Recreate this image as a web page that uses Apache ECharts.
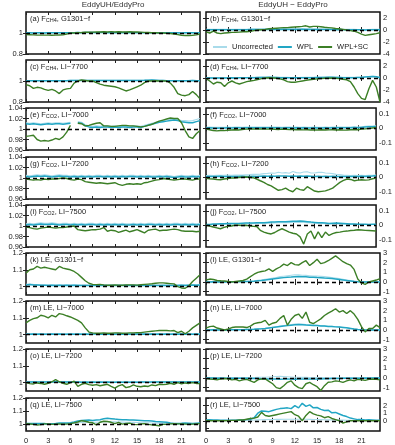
<!DOCTYPE html>
<html>
<head>
<meta charset="utf-8">
<script src="https://cdn.jsdelivr.net/npm/echarts@6/dist/echarts.min.js"></script>
<style>
html,body{margin:0;padding:0;background:#fff;}
#chart{width:395px;height:445px;}
</style>
</head>
<body>
<div id="chart"></div>
<script>
/*-----------日变化：EddyUH 与 EddyPro 的比值 / 差值-----------*/
var hours = [0,0.5,1,1.5,2,2.5,3,3.5,4,4.5,5,5.5, 6,6.5,7,7.5,8,8.5,9,9.5,10,10.5,11,11.5,
             12,12.5,13,13.5,14,14.5,15,15.5,16,16.5,17,17.5, 18,18.5,19,19.5,20,20.5,21,21.5,22,22.5,23,23.5];
var xTicks = [0,3,6,9,12,15,18,21];
var seriesNames = ['Uncorrected','WPL','WPL+SC'];

// (a) F_CH4, G1301-f ratio
var unc_a = [1.004,1.004,1.003,1.004,1.004,1.003,1.004,1.004,1.005,1.004,1.004,1.005, 1.005,1.005,1.006,1.005,1.006,1.006,1.006,1.005,1.006,1.006,1.005,1.006, 1.005,1.006,1.005,1.006,1.005,1.005,1.005,1.005,1.004,1.005,1.004,1.004, 1.004,1.004,1.004,1.005,1.004,1.004,1.003,1.004,1.004,1.004,1.003,1.004];
var wpl_a = [1.002,1.002,1.001,1.002,1.002,1.001,1.002,1.002,1.003,1.002,1.002,1.003, 1.003,1.003,1.004,1.003,1.004,1.004,1.004,1.003,1.004,1.004,1.003,1.004, 1.003,1.004,1.003,1.004,1.003,1.003,1.003,1.003,1.002,1.003,1.002,1.002, 1.002,1.002,1.002,1.003,1.002,1.002,1.001,1.002,1.002,1.002,1.001,1.002];
var sc_a = [0.985,0.984,0.982,0.98,0.98,0.98,0.98,0.979,0.98,0.981,0.982,0.99, 1.0,1.0,1.004,1.005,1.007,1.007,1.008,1.01,1.01,1.012,1.01,1.013, 1.01,1.012,1.01,1.01,1.012,1.01,1.01,1.008,1.006,1.005,1.003,1.002, 1.0,1.0,0.998,0.995,0.99,0.985,0.978,0.976,0.976,0.978,0.982,0.99];
// (b) F_CH4, G1301-f difference
var unc_b = [0.12,0.11,0.12,0.11,0.1,0.11,0.12,0.11,0.12,0.13,0.12,0.13, 0.14,0.15,0.16,0.17,0.18,0.18,0.18,0.19,0.18,0.19,0.18,0.18, 0.18,0.18,0.19,0.18,0.18,0.17,0.17,0.16,0.16,0.15,0.14,0.13, 0.13,0.12,0.11,0.1,0.1,0.09,0.08,0.08,0.09,0.1,0.1,0.11];
var wpl_b = [0.05,0.04,0.05,0.04,0.03,0.04,0.05,0.04,0.05,0.06,0.05,0.06, 0.07,0.08,0.08,0.09,0.1,0.1,0.1,0.11,0.1,0.11,0.1,0.1, 0.1,0.1,0.11,0.1,0.1,0.09,0.09,0.08,0.08,0.07,0.07,0.06, 0.06,0.05,0.05,0.04,0.04,0.03,0.03,0.02,0.03,0.04,0.04,0.05];
var sc_b = [-0.3,-0.5,-0.2,-0.5,-0.6,-0.5,-0.45,-0.4,-0.4,-0.35,-0.3,-0.3, -0.2,-0.1,0,0.05,0.1,0.2,0.25,0.3,0.35,0.4,0.4,0.45, 0.5,0.55,0.6,0.7,0.5,0.6,0.6,0.55,0.45,0.4,0.35,0.25, 0.2,0.1,0,-0.1,-0.2,-0.4,-0.7,-0.9,-0.8,-0.7,-0.6,-0.45];
// (c) F_CH4, LI-7700 ratio
var unc_c = [1.005,1.005,1.004,1.005,1.005,1.004,1.005,1.005,1.005,1.004,1.005,1.005, 1.006,1.006,1.006,1.007,1.006,1.006,1.006,1.006,1.007,1.006,1.006,1.006, 1.006,1.006,1.006,1.006,1.006,1.007,1.006,1.007,1.008,1.01,1.012,1.009, 1.006,1.006,1.005,1.005,1.005,1.004,1.005,1.004,1.005,1.006,1.005,1.004];
var wpl_c = [1.003,1.003,1.002,1.003,1.003,1.002,1.003,1.003,1.003,1.002,1.003,1.003, 1.004,1.004,1.004,1.005,1.004,1.004,1.004,1.004,1.005,1.004,1.004,1.004, 1.004,1.004,1.004,1.004,1.004,1.005,1.004,1.005,1.006,1.008,1.01,1.007, 1.004,1.004,1.003,1.003,1.003,1.002,1.003,1.002,1.003,1.004,1.003,1.002];
var sc_c = [0.965,0.955,0.93,0.94,0.935,0.92,0.91,0.92,0.905,0.88,0.915,0.925, 0.93,0.98,1.0,1.01,1.005,1.0,1.0,0.985,0.97,0.96,0.955,0.95, 0.945,0.935,0.92,0.905,0.915,0.93,0.945,0.96,0.985,1.0,1.0,1.002, 1.0,1.0,1.0,0.98,0.94,0.88,0.865,0.86,0.87,0.9,0.87,0.83];
// (d) F_CH4, LI-7700 difference
var unc_d = [0.07,0.06,0.07,0.07,0.06,0.07,0.07,0.08,0.07,0.08,0.08,0.09, 0.1,0.11,0.13,0.15,0.15,0.17,0.15,0.13,0.11,0.1,0.1,0.09, 0.1,0.09,0.1,0.1,0.11,0.11,0.12,0.13,0.15,0.17,0.17,0.15, 0.13,0.11,0.1,0.1,0.11,0.13,0.15,0.2,0.25,0.3,0.25,0.1];
var wpl_d = [0.02,0.01,0.02,0.02,0.01,0.02,0.02,0.03,0.02,0.03,0.03,0.04, 0.05,0.06,0.08,0.1,0.1,0.12,0.1,0.08,0.06,0.05,0.05,0.04, 0.05,0.04,0.05,0.05,0.06,0.06,0.07,0.08,0.1,0.12,0.12,0.1, 0.08,0.06,0.05,0.05,0.06,0.08,0.1,0.15,0.2,0.25,0.2,0.05];
var sc_d = [-0.1,-0.5,-1.0,-0.7,-0.8,-1.4,-0.8,-0.5,-0.8,-1.0,-0.8,-0.6, -0.5,-0.4,-0.25,-0.1,0,0.05,0,-0.05,-0.15,-0.3,-0.6,-0.7, -0.7,-0.6,-0.5,-0.4,-0.3,-0.2,-0.15,-0.1,-0.05,-0.05,0,-0.05, -0.1,-0.2,-0.3,-0.6,-1.5,-2.6,-3.4,-3.6,-1.8,-0.4,-1.5,-4.0];
// (e) F_CO2, LI-7000 ratio
var unc_e = [1.012,1.011,1.012,1.011,1.01,1.011,1.012,1.011,1.012,1.012,1.011,1.012, 1.013,null,1.014,1.013,1.008,1.006,1.005,1.006,1.005,1.006,1.006,1.005, 1.006,1.005,1.006,1.006,1.005,1.006,1.006,1.005,1.007,1.009,1.011,1.013, 1.015,1.016,1.017,1.018,1.019,1.018,1.016,1.016,1.015,1.016,1.018,1.02];
var wpl_e = [1.01,1.009,1.01,1.009,1.008,1.009,1.01,1.009,1.01,1.01,1.009,1.01, 1.011,null,1.012,1.011,1.006,1.004,1.003,1.004,1.003,1.004,1.004,1.003, 1.004,1.003,1.004,1.004,1.003,1.004,1.004,1.003,1.005,1.007,1.009,1.011, 1.013,1.014,1.015,1.016,1.017,1.016,1.014,1.013,1.012,1.012,1.014,1.016];
var sc_e = [0.986,0.987,0.988,0.98,0.977,0.978,0.977,0.979,0.982,0.98,0.985,0.994, 1.007,null,1.011,1.01,1.006,1.007,1.009,1.011,1.012,1.006,1.006,1.005, 1.005,1.006,1.007,1.007,1.006,1.006,1.005,1.004,1.005,1.007,1.009,1.012, 1.015,1.017,1.019,1.021,1.02,1.02,1.012,0.997,0.985,0.982,0.991,0.997];
// (f) F_CO2, LI-7000 difference
var unc_f = [0.007,0.008,0.007,0.006,0.007,0.007,0.008,0.007,0.008,0.008,0.007,0.008, 0.008,0.009,0.008,0.009,0.008,0.008,0.009,0.008,0.008,0.007,0.008,0.008, 0.007,0.008,0.007,0.008,0.007,0.007,0.008,0.007,0.007,0.008,0.007,0.008, 0.008,0.009,0.008,0.008,0.009,0.01,0.009,0.011,0.013,0.015,0.015,0.017];
var wpl_f = [0.002,0.003,0.002,0.001,0.002,0.002,0.003,0.002,0.003,0.003,0.002,0.003, 0.003,0.004,0.003,0.004,0.003,0.003,0.004,0.003,0.003,0.002,0.003,0.003, 0.002,0.003,0.002,0.003,0.002,0.002,0.003,0.002,0.002,0.003,0.002,0.003, 0.003,0.004,0.003,0.003,0.004,0.005,0.004,0.006,0.008,0.01,0.01,0.012];
var sc_f = [-0.005,-0.01,-0.015,-0.018,-0.015,-0.016,-0.014,-0.012,-0.01,-0.012,-0.008,-0.006, -0.005,-0.004,-0.006,-0.005,-0.004,-0.006,-0.005,-0.007,-0.008,-0.006,-0.007,-0.009, -0.008,-0.01,-0.009,-0.011,-0.01,-0.012,-0.011,-0.012,-0.01,-0.012,-0.011,-0.01, -0.012,-0.01,-0.013,-0.012,-0.01,-0.008,-0.01,-0.006,-0.004,-0.002,0.002,0.005];
// (g) F_CO2, LI-7200 ratio
var unc_g = [1.005,1.004,1.005,1.006,1.005,1.006,1.005,1.004,1.005,1.006,1.005,1.005, 1.004,1.005,1.004,1.005,1.004,1.005,1.004,1.005,1.005,1.004,1.005,1.004, 1.005,1.004,1.005,1.004,1.005,1.005,1.004,1.005,1.004,1.005,1.004,1.004, 1.005,1.004,1.005,1.004,1.003,1.004,1.005,1.004,1.004,1.005,1.004,1.005];
var wpl_g = [1.003,1.002,1.003,1.004,1.003,1.004,1.003,1.002,1.003,1.004,1.003,1.003, 1.002,1.003,1.002,1.003,1.002,1.003,1.002,1.003,1.003,1.002,1.003,1.002, 1.003,1.002,1.003,1.002,1.003,1.003,1.002,1.003,1.002,1.003,1.002,1.002, 1.003,1.002,1.003,1.002,1.001,1.002,1.003,1.002,1.002,1.003,1.002,1.003];
var sc_g = [0.998,0.997,0.996,0.997,0.996,0.998,0.997,0.998,0.998,0.999,1.0,0.999, 0.997,0.996,0.998,0.997,0.993,0.992,0.991,0.99,0.991,0.99,0.989,0.99, 0.991,0.988,0.986,0.988,0.989,0.988,0.989,0.988,0.991,0.992,0.994,0.996, 0.997,0.999,0.998,0.997,0.996,0.997,0.998,0.998,0.997,0.996,0.998,0.998];
// (h) F_CO2, LI-7200 difference
var unc_h = [0.012,0.013,0.012,0.014,0.013,0.014,0.015,0.014,0.015,0.016,0.015,0.017, 0.018,0.02,0.02,0.022,0.025,0.027,0.03,0.028,0.035,0.03,0.032,0.028, 0.04,0.032,0.03,0.036,0.038,0.03,0.03,0.034,0.035,0.03,0.028,0.025, 0.02,0.018,0.015,0.014,0.012,0.013,0.012,0.013,0.012,0.013,0.014,0.015];
var wpl_h = [0.005,0.006,0.005,0.006,0.007,0.006,0.005,0.006,0.005,0.006,0.007,0.006, 0.006,0.007,0.006,0.007,0.008,0.007,0.008,0.007,0.008,0.009,0.008,0.007, 0.008,0.007,0.008,0.007,0.008,0.007,0.006,0.007,0.006,0.007,0.006,0.007, 0.006,0.005,0.006,0.005,0.006,0.005,0.006,0.007,0.006,0.007,0.008,0.01];
var sc_h = [-0.007,-0.01,-0.012,-0.015,-0.017,-0.012,-0.008,-0.005,-0.005,-0.002,0,0.002, 0,-0.003,-0.012,-0.024,-0.035,-0.05,-0.06,-0.075,-0.09,-0.085,-0.075,-0.09, -0.1,-0.075,-0.085,-0.09,-0.065,-0.08,-0.095,-0.1,-0.097,-0.094,-0.085,-0.075, -0.055,-0.035,-0.022,-0.012,-0.015,-0.024,-0.02,-0.017,-0.02,-0.018,-0.01,-0.005];
// (i) F_CO2, LI-7500 ratio
var unc_i = [1.004,1.005,1.004,1.005,1.006,1.005,1.005,1.006,1.005,1.004,1.005,1.005, 1.004,1.005,1.004,1.005,1.004,1.005,1.005,1.004,1.005,1.004,1.005,1.004, 1.005,1.004,1.005,1.004,1.004,1.005,1.004,1.005,1.004,1.005,1.005,1.004, 1.005,1.004,1.005,1.004,1.005,1.005,1.004,1.005,1.004,1.005,1.004,1.005];
var wpl_i = [1.002,1.003,1.002,1.003,1.004,1.003,1.003,1.004,1.003,1.002,1.003,1.003, 1.002,1.003,1.002,1.003,1.002,1.003,1.003,1.002,1.003,1.002,1.003,1.002, 1.003,1.002,1.003,1.002,1.002,1.003,1.002,1.003,1.002,1.003,1.003,1.002, 1.003,1.002,1.003,1.002,1.003,1.003,1.002,1.003,1.002,1.003,1.002,1.003];
var sc_i = [0.998,0.997,0.995,0.994,0.996,0.997,0.998,0.997,0.996,0.997,0.997,0.998, 0.999,1.0,0.993,0.992,0.991,0.992,0.993,0.993,0.994,0.997,0.99,0.992, 0.991,0.988,0.99,0.992,0.989,0.991,0.993,0.99,0.987,0.992,0.993,0.994, 0.991,0.992,0.992,0.993,0.994,0.993,0.991,0.99,0.99,0.99,0.989,0.99];
// (j) F_CO2, LI-7500 difference
var unc_j = [0.003,0.004,0.005,0.006,0.007,0.007,0.008,0.008,0.009,0.009,0.01,0.01, 0.011,0.011,0.012,0.012,0.013,0.014,0.015,0.016,0.017,0.017,0.018,0.018, 0.019,0.02,0.021,0.02,0.018,0.016,0.014,0.013,0.012,0.011,0.009,0.01, 0.01,0.01,0.008,0.007,0.006,0.006,0.005,0.005,0.005,0.004,0.005,0.005];
var wpl_j = [0.005,0.006,0.008,0.009,0.01,0.011,0.012,0.012,0.013,0.013,0.014,0.015, 0.016,0.016,0.017,0.018,0.018,0.02,0.022,0.023,0.025,0.024,0.025,0.026, 0.027,0.028,0.03,0.028,0.025,0.022,0.02,0.018,0.017,0.015,0.013,0.014, 0.015,0.014,0.012,0.01,0.008,0.008,0.007,0.007,0.007,0.006,0.007,0.007];
var sc_j = [0,-0.005,-0.012,-0.018,-0.024,-0.015,-0.007,-0.005,0,0,-0.002,0, -0.004,-0.007,-0.008,-0.035,-0.047,-0.055,-0.06,-0.05,-0.035,-0.024,-0.035,-0.047, -0.055,-0.06,-0.08,-0.13,-0.06,-0.04,-0.094,-0.045,-0.085,-0.047,-0.07,-0.058, -0.05,-0.047,-0.042,-0.04,-0.036,-0.034,-0.031,-0.033,-0.035,-0.036,-0.038,-0.04];
// (k) LE, G1301-f ratio
var unc_k = [1.013,1.015,1.013,1.012,1.011,1.011,1.01,1.011,1.01,1.011,1.01,1.011, 1.01,1.011,1.01,1.009,1.01,1.009,1.01,1.009,1.01,1.009,1.009,1.01, 1.009,1.01,1.009,1.01,1.009,1.01,1.009,1.01,1.01,1.009,1.01,1.009, 1.009,1.01,1.009,1.01,1.009,1.01,1.011,1.01,1.011,1.012,1.011,1.013];
var wpl_k = [1.01,1.012,1.01,1.009,1.008,1.008,1.007,1.008,1.007,1.008,1.007,1.008, 1.007,1.008,1.007,1.006,1.007,1.006,1.007,1.006,1.007,1.006,1.006,1.007, 1.006,1.007,1.006,1.007,1.006,1.007,1.006,1.007,1.007,1.006,1.007,1.006, 1.006,1.007,1.006,1.007,1.006,1.007,1.008,1.007,1.008,1.009,1.008,1.01];
var sc_k = [1.08,1.1,1.105,1.12,1.11,1.115,1.11,1.105,1.1,1.12,1.11,1.105, 1.1,1.09,1.075,1.055,1.035,1.02,1.013,1.012,1.013,1.01,1.008,1.008, 1.01,1.009,1.008,1.01,1.01,1.01,1.009,1.011,1.013,1.015,1.017,1.02, 1.022,1.022,1.02,1.018,1.016,1.0,0.992,0.99,1.005,1.03,1.05,1.07];
// (l) LE, G1301-f difference
var unc_l = [0.03,0.03,0.04,0.03,0.04,0.03,0.04,0.05,0.05,0.06,0.07,0.08, 0.1,0.13,0.18,0.22,0.28,0.34,0.4,0.47,0.55,0.6,0.65,0.7, 0.75,0.73,0.7,0.68,0.65,0.62,0.6,0.58,0.55,0.5,0.45,0.4, 0.35,0.28,0.2,0.15,0.1,0.05,0.02,0.01,0.01,0.01,0.02,0.02];
var wpl_l = [0,0,0.01,0,0.01,0,0.01,0.01,0.02,0.02,0.03,0.04, 0.05,0.08,0.12,0.15,0.2,0.25,0.3,0.35,0.4,0.45,0.5,0.52, 0.55,0.56,0.55,0.54,0.5,0.48,0.45,0.43,0.4,0.38,0.35,0.3, 0.25,0.2,0.15,0.1,0.05,0.02,0,0,0,0,0,0];
var sc_l = [0.2,0.3,0.25,0.15,0.12,0.1,0.05,0,0.05,0.1,0.15,0.3, 0.55,0.8,1.0,1.08,1.15,1.35,1.1,1.35,1.55,1.85,1.7,2.0, 1.8,1.75,2.0,2.2,1.7,2.0,2.35,1.9,2.0,2.2,2.45,2.7, 2.4,2.1,1.9,1.75,1.3,0.3,-0.1,-0.25,0,0.1,0.2,0.35];
// (m) LE, LI-7000 ratio
var unc_m = [1.006,1.005,1.006,1.005,1.006,1.005,1.005,1.006,1.005,1.006,1.005,1.005, 1.006,1.005,1.006,1.005,1.006,1.005,1.006,1.006,1.005,1.006,1.005,1.006, 1.005,1.006,1.005,1.006,1.005,1.005,1.006,1.005,1.006,1.005,1.006,1.005, 1.006,1.005,1.006,1.005,1.006,1.005,1.006,1.005,1.006,1.005,1.006,1.005];
var wpl_m = [1.003,1.002,1.003,1.002,1.003,1.002,1.002,1.003,1.002,1.003,1.002,1.002, 1.003,1.002,1.003,1.002,1.003,1.002,1.003,1.003,1.002,1.003,1.002,1.003, 1.002,1.003,1.002,1.003,1.002,1.002,1.003,1.002,1.003,1.002,1.003,1.002, 1.003,1.002,1.003,1.002,1.003,1.002,1.003,1.002,1.003,1.002,1.003,1.002];
var sc_m = [1.07,1.085,1.095,1.1,1.115,1.11,1.1,1.115,1.105,1.125,1.12,1.112, 1.105,1.095,1.085,1.07,1.04,1.015,1.01,1.008,1.008,1.01,1.008,1.008, 1.01,1.01,1.008,1.009,1.01,1.01,1.012,1.012,1.015,1.018,1.02,1.022, 1.024,1.024,1.024,1.022,1.024,1.012,1.02,1.005,1.02,1.04,1.055,1.07];
// (n) LE, LI-7000 difference
var unc_n = [0.02,0.02,0.03,0.02,0.02,0.03,0.02,0.03,0.03,0.04,0.05,0.06, 0.07,0.09,0.12,0.15,0.18,0.23,0.28,0.34,0.4,0.46,0.52,0.57, 0.62,0.62,0.6,0.57,0.54,0.51,0.48,0.45,0.42,0.39,0.37,0.34, 0.31,0.27,0.23,0.17,0.11,0.06,0.03,0.01,0.01,0.01,0.01,0.01];
var wpl_n = [0,0,0.01,0,0,0.01,0,0.01,0.01,0.02,0.03,0.04, 0.05,0.07,0.1,0.12,0.15,0.2,0.25,0.3,0.35,0.4,0.45,0.5, 0.55,0.56,0.55,0.52,0.5,0.47,0.45,0.42,0.4,0.37,0.35,0.32, 0.3,0.26,0.22,0.16,0.1,0.05,0.02,0,0,0,0,0];
var sc_n = [0.2,0.35,0.4,0.2,0.1,0,0.1,0.25,0.3,0.3,0.3,0.25, 0.4,0.65,0.75,0.8,1.0,0.5,0.7,0.8,1.2,1.5,0.5,1.1, 1.5,1.65,1.2,1.85,0.8,0.65,0.9,1.15,1.5,1.75,1.95,2.2, 1.85,2.0,1.7,2.0,1.65,1.1,0.35,-0.2,0.15,0.15,0.5,0.25];
// (o) LE, LI-7200 ratio
var unc_o = [1.006,1.005,1.006,1.005,1.006,1.005,1.006,1.006,1.007,1.006,1.005,1.006, 1.005,1.006,1.005,1.004,1.005,1.004,1.005,1.004,1.005,1.004,1.005,1.004, 1.004,1.005,1.004,1.005,1.004,1.005,1.004,1.005,1.005,1.004,1.005,1.005, 1.006,1.005,1.006,1.005,1.006,1.005,1.006,1.005,1.006,1.005,1.006,1.006];
var wpl_o = [1.004,1.003,1.004,1.003,1.004,1.003,1.004,1.004,1.005,1.004,1.003,1.004, 1.003,1.004,1.003,1.002,1.003,1.002,1.003,1.002,1.003,1.002,1.003,1.002, 1.002,1.003,1.002,1.003,1.002,1.003,1.002,1.003,1.003,1.002,1.003,1.003, 1.004,1.003,1.004,1.003,1.004,1.003,1.004,1.003,1.004,1.003,1.004,1.004];
var sc_o = [1.0,0.994,0.992,0.998,0.995,0.99,0.996,1.005,1.018,1.005,0.996,0.99, 1.0,1.008,0.978,0.99,0.996,0.988,0.984,0.988,0.981,0.986,0.99,0.978, 0.967,0.98,0.988,0.97,0.975,0.986,0.978,0.975,0.98,0.977,0.986,0.982, 0.99,0.988,0.99,0.996,0.99,1.0,0.992,0.998,0.995,1.0,0.995,0.994];
// (p) LE, LI-7200 difference
var unc_p = [0.03,0.02,0.03,0.02,0.03,0.02,0.02,0.03,0.02,0.03,0.03,0.04, 0.04,0.05,0.06,0.07,0.08,0.1,0.12,0.15,0.16,0.14,0.12,0.1, 0.08,0.07,0.06,0.06,0.05,0.05,0.04,0.04,0.04,0.03,0.03,0.03, 0.03,0.02,0.02,0.02,0.02,0.02,0.02,0.02,0.02,0.02,0.02,0.02];
var wpl_p = [0,-0.01,0,-0.02,-0.01,-0.02,-0.03,-0.02,-0.03,-0.04,-0.03,-0.04, -0.05,-0.06,-0.06,-0.08,-0.1,-0.1,-0.12,-0.12,-0.14,-0.12,-0.1,-0.12, -0.13,-0.12,-0.1,-0.12,-0.1,-0.1,-0.12,-0.1,-0.08,-0.07,-0.06,-0.05, -0.05,-0.04,-0.04,-0.03,-0.03,-0.02,-0.02,-0.01,-0.02,-0.01,0,0];
var sc_p = [-0.05,-0.1,-0.15,-0.2,-0.1,-0.05,-0.1,-0.2,-0.15,-0.3,-0.2,-0.15, -0.3,-0.45,-0.2,-0.1,-0.1,-0.35,-0.6,-1.0,-1.1,-0.8,-0.45,-0.3, -0.75,-1.0,-1.1,-0.6,-0.45,-0.7,-0.9,-1.3,-0.8,-0.45,-0.4,-0.3, -0.35,-0.45,-0.3,-0.2,-0.3,-0.15,-0.2,-0.25,-0.15,-0.1,-0.15,-0.2];
// (q) LE, LI-7500 ratio
var unc_q = [1.004,1.004,1.003,1.004,1.004,1.003,1.003,1.003,1.004,1.005,1.005,1.006, 1.006,1.008,1.012,1.014,1.016,1.016,1.015,1.016,1.018,1.02,1.022,1.02, 1.019,1.018,1.017,1.016,1.016,1.015,1.014,1.013,1.012,1.012,1.011,1.01, 1.009,1.008,1.007,1.005,1.004,1.004,1.005,1.005,1.005,1.004,1.005,1.006];
var wpl_q = [1.006,1.007,1.006,1.006,1.007,1.006,1.002,1.004,1.006,1.01,1.01,1.011, 1.012,1.018,1.026,1.03,1.032,1.033,1.03,1.033,1.036,1.042,1.046,1.043, 1.04,1.038,1.036,1.035,1.034,1.033,1.032,1.03,1.028,1.027,1.025,1.022, 1.02,1.018,1.016,1.01,1.006,1.007,1.008,1.01,1.008,1.006,1.008,1.01];
var sc_q = [1.006,1.003,1.0,0.996,0.998,1.004,1.004,1.0,1.002,1.004,1.002,1.002, 1.006,1.012,1.018,1.028,1.024,1.016,1.012,0.996,1.016,1.024,1.022,1.016, 1.006,1.016,1.002,1.008,1.01,1.0,0.998,1.004,1.006,1.0,0.996,0.994, 0.99,1.0,1.0,1.004,1.006,1.004,1.004,1.002,1.0,1.002,1.004,1.006];
// (r) LE, LI-7500 difference
var unc_r = [0.05,0.05,0.04,0.05,0.04,0.05,0.04,0.05,0.05,0.06,0.06,0.07, 0.08,0.1,0.12,0.14,0.15,0.16,0.17,0.18,0.18,0.19,0.2,0.19, 0.2,0.19,0.2,0.19,0.18,0.17,0.16,0.15,0.14,0.12,0.11,0.1, 0.09,0.08,0.07,0.06,0.05,0.05,0.04,0.04,0.04,0.04,0.04,0.04];
var wpl_r = [0.1,0.12,0.1,0.1,0.08,0.07,0.06,0.07,0.08,0.1,0.12,0.15, 0.2,0.4,1.0,1.3,1.25,1.2,1.35,1.5,1.6,1.65,1.7,1.6, 2.0,1.7,2.3,1.9,2.1,1.7,1.75,1.5,1.35,1.4,1.05,1.1, 0.9,0.7,0.55,0.35,0.25,0.15,0.15,0.1,0.12,0.1,0.08,0.06];
var sc_r = [0.05,0,0.02,0,0.02,0,0.02,0.05,0.05,0.1,0.1,0.2, 0.3,0.35,0.5,1.1,0.7,0.6,0.7,0.8,0.9,1.0,1.1,1.2, 0.8,0.6,0,0.7,1.2,0.9,0.75,0.65,0.4,0.55,0.3,0.15, 0,-0.3,-0.15,0,0,0,0.02,0,0.02,0,0.02,0];

// y 轴刻度
var ticksCh4Ratio = [0.8,1];
var ticksCo2Ratio = [0.96,0.98,1,1.02,1.04];
var ticksLeRatio = [1,1.1,1.2];
var ticksCh4Diff = [-4,-2,0,2];
var ticksCo2Diff = [-0.1,0,0.1];
var ticksLeDiff = [-1,0,1,2,3];

var scales = {
    ch4Ratio: {min:0.8, max:1.2, ticks:ticksCh4Ratio, ref:1},
    co2Ratio: {min:0.96, max:1.04, ticks:ticksCo2Ratio, ref:1},
    leRatio: {min:0.95, max:1.2, ticks:ticksLeRatio, ref:1},
    ch4Diff: {min:-4, max:3, ticks:ticksCh4Diff, ref:0},
    co2Diff: {min:-0.15, max:0.14, ticks:ticksCo2Diff, ref:0},
    leDiff: {min:-1.35, max:3, ticks:ticksLeDiff, ref:0}
};

var panels = [
    {tag:'(a) F', sub:'CH4', rest:', G1301−f', scale:'ch4Ratio', data:[unc_a, wpl_a, sc_a]},
    {tag:'(b) F', sub:'CH4', rest:', G1301−f', scale:'ch4Diff', data:[unc_b, wpl_b, sc_b]},
    {tag:'(c) F', sub:'CH4', rest:', LI−7700', scale:'ch4Ratio', data:[unc_c, wpl_c, sc_c]},
    {tag:'(d) F', sub:'CH4', rest:', LI−7700', scale:'ch4Diff', data:[unc_d, wpl_d, sc_d]},
    {tag:'(e) F', sub:'CO2', rest:', LI−7000', scale:'co2Ratio', data:[unc_e, wpl_e, sc_e]},
    {tag:'(f) F', sub:'CO2', rest:', LI−7000', scale:'co2Diff', data:[unc_f, wpl_f, sc_f]},
    {tag:'(g) F', sub:'CO2', rest:', LI−7200', scale:'co2Ratio', data:[unc_g, wpl_g, sc_g]},
    {tag:'(h) F', sub:'CO2', rest:', LI−7200', scale:'co2Diff', data:[unc_h, wpl_h, sc_h]},
    {tag:'(i) F', sub:'CO2', rest:', LI−7500', scale:'co2Ratio', data:[unc_i, wpl_i, sc_i]},
    {tag:'(j) F', sub:'CO2', rest:', LI−7500', scale:'co2Diff', data:[unc_j, wpl_j, sc_j]},
    {tag:'(k) LE, G1301−f', sub:'', rest:'', scale:'leRatio', data:[unc_k, wpl_k, sc_k]},
    {tag:'(l) LE, G1301−f', sub:'', rest:'', scale:'leDiff', data:[unc_l, wpl_l, sc_l]},
    {tag:'(m) LE, LI−7000', sub:'', rest:'', scale:'leRatio', data:[unc_m, wpl_m, sc_m]},
    {tag:'(n) LE, LI−7000', sub:'', rest:'', scale:'leDiff', data:[unc_n, wpl_n, sc_n]},
    {tag:'(o) LE, LI−7200', sub:'', rest:'', scale:'leRatio', data:[unc_o, wpl_o, sc_o]},
    {tag:'(p) LE, LI−7200', sub:'', rest:'', scale:'leDiff', data:[unc_p, wpl_p, sc_p]},
    {tag:'(q) LE, LI−7500', sub:'', rest:'', scale:'leRatio', data:[unc_q, wpl_q, sc_q]},
    {tag:'(r) LE, LI−7500', sub:'', rest:'', scale:'leDiff', data:[unc_r, wpl_r, sc_r]}
];

var FONT = '"Liberation Sans", Arial, sans-serif';
var TXT = '#222';
var colors = ['#a9dbea', '#22a6c4', '#3c7f26'];
var widths = [1.1, 1.5, 1.4];

// 简易 extend（不依赖 jquery）
function extendObj(a, b) { for (var key in b) { a[key] = b[key]; } return a; }

var option = {
    animation: false,
    legend: {
        left: 213, top: 43, padding: 0, width: 166,
        icon: 'rect', itemWidth: 14, itemHeight: 2, itemGap: 5,
        textStyle: {fontSize: 7.5, color: TXT, fontFamily: FONT},
        data: seriesNames
    },
    graphic: [
        {type:'text', x:113, y:1, style:{text:'EddyUH/EddyPro', textAlign:'center', fill:'#333', font:'8px ' + FONT}},
        {type:'text', x:293, y:1, style:{text:'EddyUH − EddyPro', textAlign:'center', fill:'#333', font:'8px ' + FONT}}
    ],
    grid: [], xAxis: [], yAxis: [], series: []
};

panels.forEach(function (p, k) {
    var col = k % 2, row = Math.floor(k / 2);
    var left = col ? 206 : 26;
    var top = Math.round(12 + row * 48.2);
    var sc = scales[p.scale];
    var lastRow = row === 8;

    option.grid.push({left: left, top: top, width: 174, height: 42, show: true,
        borderColor: '#111', borderWidth: 1.5, backgroundColor: 'transparent'});

    var tick = {show: true, inside: true, length: 3, lineStyle: {color: '#222', width: 1}};
    option.xAxis.push({type:'value', gridIndex:k, min:0, max:23.5, position:'bottom',
        axisLine:{show:false}, splitLine:{show:false},
        axisTick: extendObj({customValues: xTicks}, tick),
        axisLabel: {show: lastRow, customValues: xTicks, fontSize: 7.5, color: TXT, fontFamily: FONT, margin: 6}});
    option.xAxis.push({type:'value', gridIndex:k, min:0, max:23.5, position:'top',
        axisLine:{show:false}, splitLine:{show:false},
        axisTick: extendObj({customValues: xTicks}, tick), axisLabel:{show:false}});

    option.yAxis.push({type:'value', gridIndex:k, min:sc.min, max:sc.max, position: col ? 'right' : 'left',
        axisLine:{show:false}, splitLine:{show:false},
        axisTick: extendObj({customValues: sc.ticks}, tick),
        axisLabel: {customValues: sc.ticks, fontSize: 7.5, color: TXT, fontFamily: FONT, margin: 3,
            align: col ? 'left' : 'right'}});
    option.yAxis.push({type:'value', gridIndex:k, min:sc.min, max:sc.max, position: col ? 'left' : 'right',
        axisLine:{show:false}, splitLine:{show:false},
        axisTick: extendObj({customValues: sc.ticks}, tick), axisLabel:{show:false}});

    p.data.forEach(function (arr, j) {
        var s = {
            name: seriesNames[j], type: 'line', xAxisIndex: 2 * k, yAxisIndex: 2 * k,
            symbol: 'none', connectNulls: false, z: 2 + j,
            lineStyle: {color: colors[j], width: widths[j]},
            itemStyle: {color: colors[j]},
            data: hours.map(function (h, i) { return [h, arr[i]]; })
        };
        if (j === 2) {
            s.markLine = {silent: true, symbol: ['none', 'none'], label: {show: false},
                lineStyle: {color: '#000', width: 1.4, type: [4, 3]},
                data: [{yAxis: sc.ref}]};
        }
        option.series.push(s);
    });

    var txt = p.sub ? '{n|' + p.tag + '}{s|' + p.sub + '}{n|' + p.rest + '}' : '{n|' + p.tag + '}';
    option.graphic.push({type:'text', x: left + 4, y: top + 3, z: 10, style: {
        text: txt, fill: TXT, font: '7.5px ' + FONT,
        rich: {
            n: {fontSize: 7.5, fontFamily: FONT, fill: TXT, lineHeight: 8, verticalAlign: 'top'},
            s: {fontSize: 5.5, fontFamily: FONT, fill: TXT, lineHeight: 6, verticalAlign: 'bottom', padding: [4, 0, 0, 0]}
        }}});
});

var myChart = echarts.init(document.getElementById('chart'));
myChart.setOption(option);
</script>
</body>
</html>
